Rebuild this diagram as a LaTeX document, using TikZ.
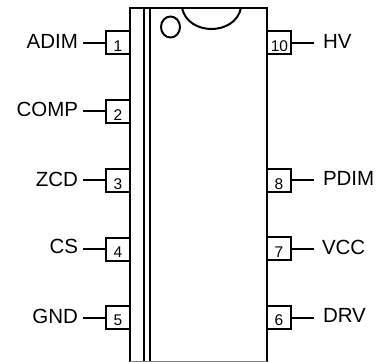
\documentclass[tikz,border=0pt]{standalone}
\usepackage{fontspec}
\setmainfont{Liberation Sans}
\begin{document}
\begin{tikzpicture}[x=1pt,y=-1pt]
\tikzset{ inner sep=0pt, outer sep=0pt,
  line/.style={line width=2pt},
  pinbox/.style={draw, line width=2pt, fill=white, minimum width=24pt, minimum height=23pt},
  pinnum/.style={font=\fontsize{15.5}{16}\selectfont},
  pinname/.style={font=\fontsize{20.5}{21}\selectfont},
}
\useasboundingbox (0,0) rectangle (381,362);

% package body
\draw [line] (130,362) -- (130,8) -- (266.5,8) -- (266.5,362);
\draw [line] (143.5,8) -- (143.5,362);
\draw [line] (149.5,8) -- (149.5,362);
\draw [gray,line width=1pt] (130,361.5) -- (266.5,361.5);
\draw [line] (170.5,27) ellipse (9.5 and 10.5);
\draw [line] (182,8) .. controls (188,36) and (235,36) .. (241,8);

% left pins
\node [pinbox] (P1) at (118,42.5) {};
\node [pinbox] (P2) at (118,111) {};
\node [pinbox] (P3) at (118,180) {};
\node [pinbox] (P4) at (118,249) {};
\node [pinbox] (P5) at (118,317.5) {};

% right pins
\node [pinbox] (P10) at (279,42.5) {};
\node [pinbox] (P8) at (279,180) {};
\node [pinbox] (P7) at (279,248.5) {};
\node [pinbox] (P6) at (279,317.5) {};

\node [pinnum] (N1) at (118,46.5) {1};
\node [pinnum] (N2) at (118,115) {2};
\node [pinnum] (N3) at (118,184) {3};
\node [pinnum] (N4) at (118,252) {4};
\node [pinnum] (N5) at (118,320) {5};
\node [pinnum] (N10) at (279.5,46) {10};
\node [pinnum] (N8) at (279,184) {8};
\node [pinnum] (N7) at (279,252) {7};
\node [pinnum] (N6) at (279,320) {6};

\node [pinname, anchor=east] (ADIM) at (78,41.5) {ADIM};
\node [pinname, anchor=east] (COMP) at (78,109) {COMP};
\node [pinname, anchor=east] (ZCD) at (78,179) {ZCD};
\node [pinname, anchor=east] (CS) at (78,246) {CS};
\node [pinname, anchor=east] (GND) at (78,316) {GND};
\node [pinname, anchor=west] (HV) at (323,41.5) {HV};
\node [pinname, anchor=west] (PDIM) at (323,178) {PDIM};
\node [pinname, anchor=west] (VCC) at (322,247) {VCC};
\node [pinname, anchor=west] (DRV) at (323,315) {DRV};

\coordinate (S1) at (83,42.5);
\coordinate (S2) at (83,111);
\coordinate (S3) at (83,180);
\coordinate (S4) at (83,249);
\coordinate (S5) at (83,317.5);
\coordinate (S10) at (314,42.5);
\coordinate (S8) at (314,180);
\coordinate (S7) at (314,248.5);
\coordinate (S6) at (314,317.5);

\draw [line] (S1) -- (P1);
\draw [line] (S2) -- (P2);
\draw [line] (S3) -- (P3);
\draw [line] (S4) -- (P4);
\draw [line] (S5) -- (P5);
\draw [line] (S10) -- (P10);
\draw [line] (S8) -- (P8);
\draw [line] (S7) -- (P7);
\draw [line] (S6) -- (P6);

\end{tikzpicture}
\end{document}
